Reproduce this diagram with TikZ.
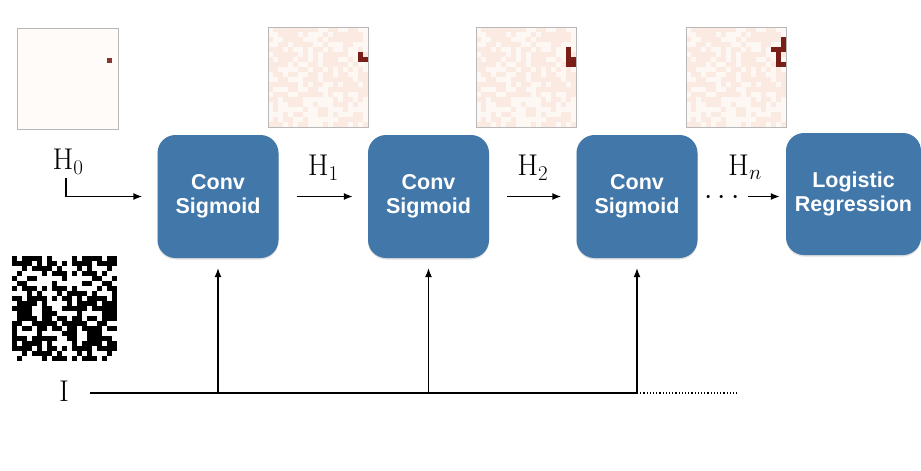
\RequirePackage{fix-cm}
\documentclass[tikz,border=0pt]{standalone}
\usepackage{fontspec}
\setsansfont{Liberation Sans}
\usepackage{tikz}
\usetikzlibrary{arrows.meta,calc,positioning,shadows}
\definecolor{BoxBlue}{HTML}{4177A9}
\definecolor{HeatDark}{HTML}{7A1E18}
\definecolor{HeatLight}{HTML}{FEF8F5}
\definecolor{HeatPink}{HTML}{FBEAE2}
\definecolor{FrameGray}{HTML}{B8B8B8}

\begin{document}
\begin{tikzpicture}[x=1pt,y=-1pt,
    stage/.style={rounded corners=18pt,fill=BoxBlue,text=white,align=center,
                  minimum width=121pt,minimum height=123pt,inner sep=0pt,
                  font=\sffamily\bfseries\fontsize{21.5}{24.5}\selectfont,
                  drop shadow={opacity=0.25,shadow xshift=0pt,shadow yshift=-1.5pt}},
    lab/.style={font=\fontsize{30}{34}\selectfont,inner sep=0pt},
    heatframe/.style={draw=FrameGray,line width=0.8pt,minimum size=100pt,inner sep=0pt,outer sep=0pt},
    flow/.style={-{Latex[length=9pt,width=7pt]},line width=1.4pt},
    iline/.style={line width=1.9pt}]
  \useasboundingbox (0,0) rectangle (921,471);

  % hidden states shown as heat maps
  \fill[HeatLight!60!white] (17,28) rectangle ++(101,101);
  \fill[HeatDark!90!white] (17+5*18,28+5*6) rectangle ++(5,5);
  \node[heatframe,minimum size=101pt] (heat0) at (67.5,78.5) {};
  \foreach \hm/\hx/\dark in {heat1/268/{18/5,18/6,19/6},
                             heat2/476/{18/4,18/5,18/6,18/7,19/6,19/7},
                             heat3/686/{19/2,19/3,17/4,18/4,19/4,18/5,18/6,18/7,19/7}}{
    \pgfmathsetseed{11}
    \fill[HeatLight] (\hx,27) rectangle ++(100,100);
    \foreach \i in {0,...,19}
      \foreach \j in {0,...,19}{
        \pgfmathtruncatemacro\on{rnd<0.55}
        \ifnum\on=1 \fill[HeatPink] (\hx+5*\i,27+5*\j) rectangle ++(5.3,5.3); \fi
      }
    \foreach \c/\r in \dark
      \fill[HeatDark] (\hx+5*\c,27+5*\r) rectangle ++(5.3,5.3);
    \node[heatframe] (\hm) at (\hx+50,77) {};
  }

  % input image
  \node[minimum size=105pt,inner sep=0pt,fill=white] (inimg) at (64.5,308.5) {};
  \foreach \i in {0,...,20}
    \foreach \j in {0,...,20}{
      \pgfmathtruncatemacro\on{mod(\i*\i*7+\j*\j*13+\i*\j*11+\i*3+\j*5,17)<9}
      \ifnum\on=1 \fill[black] (12+5*\i,256+5*\j) rectangle ++(5.3,5.3); \fi
    }

  % recurrent blocks
  \node[stage] (conv1) at (218,196.5) {Conv\\Sigmoid};
  \node[stage] (conv2) at (428.5,196.5) {Conv\\Sigmoid};
  \node[stage] (conv3) at (637,196.5) {Conv\\Sigmoid};
  \node[stage,minimum width=135pt,minimum height=122pt] (logreg) at (853.5,194) {Logistic\\Regression};

  \node[lab] (h0) at (68,162) {$\mathrm{H}_0$};
  \draw[flow] (h0.south) ++(-2,3) |- ([xshift=-15pt]conv1.west);
  \draw[flow,shorten <=18pt,shorten >=15pt] (conv1.east) --
    node[lab,anchor=base,yshift=21pt] (h1) {$\mathrm{H}_1$} (conv2.west);
  \draw[flow,shorten <=18pt,shorten >=15pt] (conv2.east) --
    node[lab,anchor=base,yshift=21pt] (h2) {$\mathrm{H}_2$} (conv3.west);
  \node[lab,anchor=base,text height=3pt,text depth=0pt] (dots) at (722,204) {$\cdots$};
  \node[lab,anchor=base] (hn) at (745,175) {$\mathrm{H}_n$};
  \draw[flow,shorten <=8pt,shorten >=6pt] (dots.east|-conv3) -- (logreg.west|-conv3);

  % input line
  \coordinate (istart) at (90,393);
  \coordinate (iend) at (738,393);
  \node[lab] (ilabel) at (64,391) {I};
  \coordinate (tap1) at (conv1|-istart);
  \coordinate (tap2) at (conv2|-istart);
  \coordinate (tap3) at (conv3|-istart);
  \draw[iline] (istart) -- (tap3);
  \draw[dotted,line width=1.2pt] (tap3) -- (iend);
  \foreach \t/\c in {tap1/conv1,tap2/conv2,tap3/conv3}
    \draw[flow,line width=1.2pt,shorten >=10pt] (\t) -- (\c.south);
\end{tikzpicture}
\end{document}
